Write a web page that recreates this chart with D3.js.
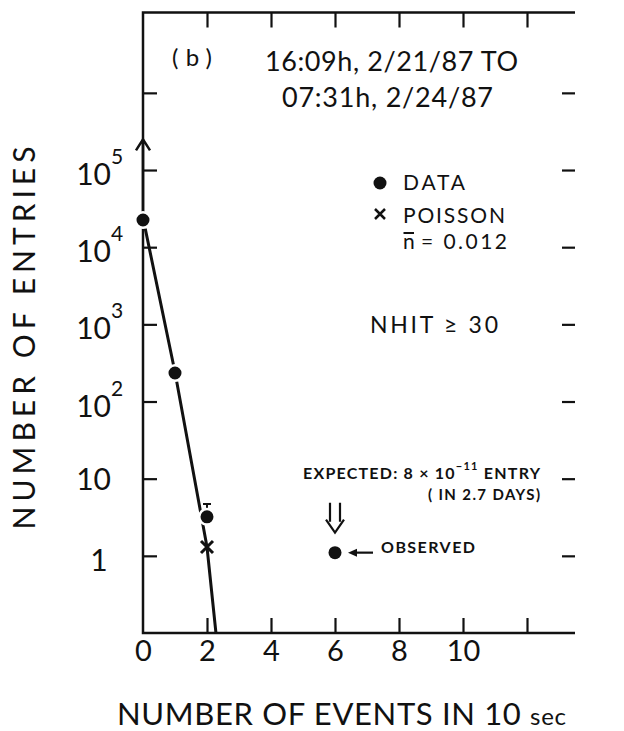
<!DOCTYPE html>
<html><head><meta charset="utf-8">
<script src="https://cdn.jsdelivr.net/npm/d3@7"></script>
<style>
body{margin:0;background:#fff;}
svg{display:block;}
text{font-family:Lato,"DejaVu Sans",sans-serif;fill:#111;}
</style>
</head><body>
<svg id="chart" width="624" height="731"></svg>
<script>
// ---- data ----
const dataX = [0, 1, 2];
const dataValues = [22500, 234, 3.2];
const dataErrUpper = [null, null, 4.7];
const poissonX = [2];
const poissonValues = [1.3];
const curveX = [0, 1, 2, 2.28];
const curveValues = [24000, 240, 1.3, 0.1];
const observedX = [6];
const observedValues = [1.1];
const lowerBoundArrowTo = [250000];   // arrow on the n=0 point
const xTickValues = [0, 2, 4, 6, 8, 10, 12];
const xTickLabels = ["0", "2", "4", "6", "8", "10", ""];
const yTickValues = [1, 10, 100, 1000, 10000, 100000, 1000000];
const yTickBase = ["1", "10", "10", "10", "10", "10", ""];
const yTickExp = ["", "", "2", "3", "4", "5", ""];

// ---- layout ----
const L = 143, T = 12.5, B = 633;
const svg = d3.select("#chart");
const x = d3.scaleLinear().domain([0, 13.5]).range([L, L + 13.5 * 32]);
const R = x(13.5);
const y = d3.scaleLog().domain([0.1, 1.1e7]).range([B, T]);
const ink = "#111";

// frame: left, top and bottom edges
svg.append("path").attr("d", `M${R},${T}H${L}V${B}H${R}`)
  .attr("fill", "none").attr("stroke", ink).attr("stroke-width", 2.5);

// axes (ticks inward)
function styleAxis(g) {
  g.select(".domain").remove();
  g.selectAll(".tick line").attr("stroke", ink).attr("stroke-width", 2.2);
}
const xAxB = svg.append("g").attr("transform", `translate(0,${B})`)
  .call(d3.axisBottom(x).tickValues(xTickValues).tickSizeInner(-15).tickSizeOuter(0)
    .tickPadding(6).tickFormat((d, i) => xTickLabels[i]));
styleAxis(xAxB);
xAxB.selectAll(".tick text").attr("font-size", 29).attr("fill", ink).attr("font-family", "Lato").attr("dy", "0.72em").attr("y", 7);
xAxB.selectAll(".tick").filter(d => d === 0).select("line").remove();

const xAxT = svg.append("g").attr("transform", `translate(0,${T})`)
  .call(d3.axisTop(x).tickValues(xTickValues.filter(d => d > 0)).tickSizeInner(-15).tickSizeOuter(0).tickFormat(""));
styleAxis(xAxT);

const yAxL = svg.append("g").attr("transform", `translate(${L},0)`)
  .call(d3.axisLeft(y).tickValues(yTickValues).tickSizeInner(-14).tickSizeOuter(0).tickFormat(""));
styleAxis(yAxL);
const yAxR = svg.append("g").attr("transform", `translate(${R},0)`)
  .call(d3.axisRight(y).tickValues(yTickValues).tickSizeInner(-13).tickSizeOuter(0).tickFormat(""));
styleAxis(yAxR);

// y tick labels with superscripts
yTickValues.forEach((v, i) => {
  if (!yTickBase[i]) return;
  const yy = y(v);
  if (yTickExp[i]) {
    svg.append("text").attr("x", 111).attr("y", yy + 15).attr("text-anchor", "end")
      .attr("font-size", 30).text(yTickBase[i]);
    svg.append("text").attr("x", 111).attr("y", yy - 6).attr("font-size", 21).text(yTickExp[i]);
  } else if (yTickBase[i] === "1") {
    svg.append("text").attr("x", 99).attr("y", yy + 15).attr("text-anchor", "middle")
      .attr("font-size", 30).text(yTickBase[i]);
  } else {
    svg.append("text").attr("x", 111).attr("y", yy + 11).attr("text-anchor", "end")
      .attr("font-size", 30).text(yTickBase[i]);
  }
});

// axis titles
svg.append("text").attr("transform", "translate(35,338) rotate(-90)").attr("text-anchor", "middle")
  .attr("font-size", 30).attr("textLength", 383).attr("lengthAdjust", "spacing").text("NUMBER OF ENTRIES");
const xt = svg.append("text").attr("x", 117).attr("y", 725).attr("font-size", 31)
  .attr("textLength", 449).attr("lengthAdjust", "spacing");
xt.append("tspan").text("NUMBER OF EVENTS IN 10 ");
xt.append("tspan").attr("font-size", 24).text("sec");

// fitted Poisson curve
const pts = curveX.map((d, i) => ({x: d, v: curveValues[i]}));
svg.append("path").datum(pts)
  .attr("d", d3.line().x(d => x(d.x)).y(d => y(d.v)))
  .attr("fill", "none").attr("stroke", ink).attr("stroke-width", 3);

// lower-bound arrow on n=0
const ax0 = x(dataX[0]), ayTop = y(lowerBoundArrowTo[0]);
svg.append("path").attr("d", `M${ax0},${y(dataValues[0]) - 8}V${ayTop}M${ax0 - 7},${ayTop + 11}L${ax0},${ayTop}L${ax0 + 7},${ayTop + 11}`)
  .attr("fill", "none").attr("stroke", ink).attr("stroke-width", 2.5);

// error bars
dataX.forEach((d, i) => {
  if (dataErrUpper[i] == null) return;
  const xx = x(d), y1 = y(dataValues[i]), y2 = y(dataErrUpper[i]);
  svg.append("path").attr("d", `M${xx},${y1}V${y2}M${xx - 4},${y2}H${xx + 4}`)
    .attr("fill", "none").attr("stroke", ink).attr("stroke-width", 2);
});

// data points
svg.selectAll(".dot").data(dataX.map((d, i) => ({x: d, v: dataValues[i]}))).join("circle")
  .attr("cx", d => x(d.x)).attr("cy", d => y(d.v)).attr("r", 7.8)
  .attr("fill", ink).attr("stroke", "#fff").attr("stroke-width", 2.6);

// poisson crosses
poissonX.forEach((d, i) => {
  const xx = x(d), yy = y(poissonValues[i]);
  svg.append("path").attr("d", `M${xx - 6},${yy - 6}L${xx + 6},${yy + 6}M${xx - 6},${yy + 6}L${xx + 6},${yy - 6}`)
    .attr("stroke", ink).attr("stroke-width", 3);
});

// observed point
observedX.forEach((d, i) => {
  const xx = x(d), yy = y(observedValues[i]);
  svg.append("circle").attr("cx", xx).attr("cy", yy).attr("r", 6.5).attr("fill", ink);
  // double arrow above
  svg.append("path").attr("d", `M${xx - 5},${yy - 50}V${yy - 31}M${xx + 5},${yy - 50}V${yy - 31}M${xx - 9},${yy - 33}L${xx},${yy - 20}L${xx + 9},${yy - 33}`)
    .attr("fill", "none").attr("stroke", ink).attr("stroke-width", 2.2);
  // small arrow pointing to it
  svg.append("path").attr("d", `M${xx + 38},${yy}H${xx + 20}`).attr("stroke", ink).attr("stroke-width", 2.2);
  svg.append("path").attr("d", `M${xx + 13},${yy}L${xx + 22},${yy - 4}L${xx + 22},${yy + 4}Z`).attr("fill", ink);
  svg.append("text").attr("x", xx + 46).attr("y", yy).attr("font-size", 16).attr("font-weight", 700)
    .attr("textLength", 94).attr("lengthAdjust", "spacing").text("OBSERVED");
});

// annotations
svg.append("text").attr("x", 172).attr("y", 66).attr("font-size", 24)
  .attr("textLength", 40).attr("lengthAdjust", "spacing").text("(b)");
svg.append("text").attr("x", 265).attr("y", 71).attr("font-size", 27)
  .attr("textLength", 253).attr("lengthAdjust", "spacing").text("16:09h, 2/21/87  TO");
svg.append("text").attr("x", 282).attr("y", 107).attr("font-size", 27)
  .attr("textLength", 211).attr("lengthAdjust", "spacing").text("07:31h, 2/24/87");

// legend
svg.append("circle").attr("cx", 380).attr("cy", 183).attr("r", 6.5).attr("fill", ink);
svg.append("text").attr("x", 403).attr("y", 190).attr("font-size", 21)
  .attr("textLength", 62).attr("lengthAdjust", "spacing").text("DATA");
svg.append("path").attr("d", "M375,209L385,219M375,219L385,209").attr("stroke", ink).attr("stroke-width", 2.5);
svg.append("text").attr("x", 403).attr("y", 223).attr("font-size", 21)
  .attr("textLength", 102).attr("lengthAdjust", "spacing").text("POISSON");
svg.append("text").attr("x", 403).attr("y", 249).attr("font-size", 21).text("n");
svg.append("path").attr("d", "M403.5,233H414").attr("stroke", ink).attr("stroke-width", 2);
svg.append("text").attr("x", 421).attr("y", 249).attr("font-size", 21)
  .attr("textLength", 86).attr("lengthAdjust", "spacing").text("= 0.012");

svg.append("text").attr("x", 370).attr("y", 333).attr("font-size", 23)
  .attr("textLength", 128).attr("lengthAdjust", "spacing").text("NHIT ≥ 30");

const ex = svg.append("text").attr("x", 303).attr("y", 479).attr("font-size", 16).attr("font-weight", 700)
  .attr("textLength", 237).attr("lengthAdjust", "spacing");
ex.append("tspan").text("EXPECTED: 8 × 10");
ex.append("tspan").attr("font-size", 11).attr("dy", -9).text("−11");
ex.append("tspan").attr("dy", 9).text(" ENTRY");
svg.append("text").attr("x", 428).attr("y", 500).attr("font-size", 15).attr("font-weight", 700)
  .attr("textLength", 112).attr("lengthAdjust", "spacing").text("( IN 2.7 DAYS)");
</script>
</body></html>
